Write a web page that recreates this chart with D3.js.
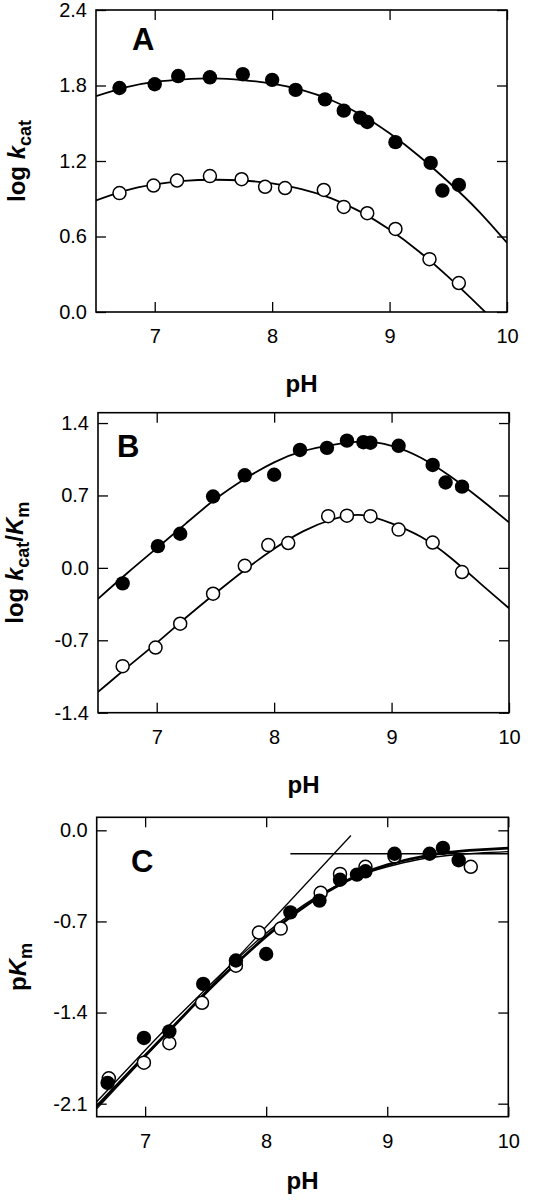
<!DOCTYPE html>
<html>
<head>
<meta charset="utf-8">
<script src="https://cdn.jsdelivr.net/npm/d3@7"></script>
<style>
  html, body { margin: 0; padding: 0; background: #fff; }
  svg { display: block; }
  text { font-family: "Liberation Sans", Arial, Helvetica, sans-serif; fill: #000; }
</style>
</head>
<body>
<svg id="chart" width="544" height="1200"></svg>
<script>
// ---------------- DATA ----------------
const xTicks = [7, 8, 9, 10];

// Panel A : log kcat
const aTicks = [0.0, 0.6, 1.2, 1.8, 2.4];
const aFilledPH  = [6.70, 7.00, 7.20, 7.47, 7.75, 8.00, 8.20, 8.45, 8.61, 8.75, 8.81, 9.05, 9.35, 9.45, 9.59];
const aFilledVal = [1.78, 1.81, 1.875, 1.865, 1.89, 1.845, 1.765, 1.69, 1.60, 1.545, 1.51, 1.35, 1.185, 0.965, 1.01];
const aOpenPH    = [6.70, 6.99, 7.19, 7.47, 7.74, 7.94, 8.11, 8.44, 8.61, 8.81, 9.05, 9.34, 9.59];
const aOpenVal   = [0.945, 1.005, 1.045, 1.08, 1.055, 0.995, 0.985, 0.97, 0.835, 0.785, 0.66, 0.42, 0.23];
const aFitFilledPH  = [6.5, 6.75, 7.0, 7.25, 7.5, 7.75, 8.0, 8.25, 8.5, 8.75, 9.0, 9.25, 9.5, 9.75, 10.0];
const aFitFilledVal = [1.715, 1.785, 1.828, 1.849, 1.856, 1.843, 1.815, 1.765, 1.685, 1.572, 1.42, 1.24, 1.035, 0.81, 0.55];
const aFitOpenPH    = [6.5, 6.75, 7.0, 7.25, 7.5, 7.75, 8.0, 8.25, 8.5, 8.75, 9.0, 9.25, 9.5, 9.75, 10.0];
const aFitOpenVal   = [0.887, 0.965, 1.014, 1.042, 1.051, 1.045, 1.022, 0.977, 0.905, 0.798, 0.655, 0.481, 0.279, 0.059, -0.17];

// Panel B : log kcat/Km
const bTicks = [-1.4, -0.7, 0.0, 0.7, 1.4];
const bFilledPH  = [6.71, 7.01, 7.20, 7.48, 7.75, 8.00, 8.22, 8.45, 8.62, 8.76, 8.82, 9.06, 9.35, 9.46, 9.60];
const bFilledVal = [-0.15, 0.21, 0.33, 0.69, 0.895, 0.90, 1.14, 1.16, 1.23, 1.215, 1.21, 1.18, 0.995, 0.825, 0.785];
const bOpenPH    = [6.71, 6.99, 7.20, 7.48, 7.75, 7.95, 8.12, 8.46, 8.62, 8.82, 9.06, 9.35, 9.60];
const bOpenVal   = [-0.95, -0.77, -0.54, -0.25, 0.02, 0.22, 0.24, 0.50, 0.505, 0.50, 0.37, 0.245, -0.04];
const bFitFilledPH  = [6.5, 6.75, 7.0, 7.25, 7.5, 7.75, 8.0, 8.25, 8.5, 8.75, 9.0, 9.25, 9.5, 9.75, 10.0];
const bFitFilledVal = [-0.30, -0.05, 0.19, 0.43, 0.665, 0.86, 1.02, 1.13, 1.19, 1.22, 1.18, 1.065, 0.885, 0.67, 0.44];
const bFitOpenPH    = [6.5, 6.75, 7.0, 7.25, 7.5, 7.75, 8.0, 8.25, 8.5, 8.75, 9.0, 9.25, 9.5, 9.75, 10.0];
const bFitOpenVal   = [-1.20, -0.96, -0.725, -0.48, -0.245, -0.02, 0.185, 0.355, 0.47, 0.51, 0.43, 0.30, 0.10, -0.145, -0.39];

// Panel C : pKm
const cTicks = [-2.1, -1.4, -0.7, 0.0];
const cFilledPH  = [6.69, 6.99, 7.20, 7.48, 7.75, 8.00, 8.20, 8.44, 8.61, 8.75, 8.82, 9.06, 9.35, 9.46, 9.59];
const cFilledVal = [-1.94, -1.595, -1.545, -1.18, -1.00, -0.95, -0.63, -0.54, -0.38, -0.34, -0.315, -0.18, -0.18, -0.135, -0.23];
const cOpenPH    = [6.70, 6.99, 7.20, 7.47, 7.75, 7.94, 8.12, 8.45, 8.61, 8.82, 9.06, 9.69];
const cOpenVal   = [-1.905, -1.785, -1.635, -1.325, -1.04, -0.785, -0.755, -0.48, -0.335, -0.28, -0.20, -0.28];
const cFitThickPH  = [6.6, 7.0, 7.25, 7.5, 7.75, 8.0, 8.25, 8.5, 8.75, 9.0, 9.25, 9.5, 9.75, 10.0];
const cFitThickVal = [-2.12, -1.73, -1.49, -1.25, -1.025, -0.815, -0.63, -0.475, -0.35, -0.265, -0.21, -0.17, -0.15, -0.137];
const cFitThinPH   = [6.6, 7.0, 7.25, 7.5, 7.75, 8.0, 8.25, 8.5, 8.75, 9.0, 9.25, 9.5, 9.75, 10.0];
const cFitThinVal  = [-2.085, -1.69, -1.45, -1.22, -0.997, -0.79, -0.613, -0.466, -0.355, -0.28, -0.226, -0.194, -0.175, -0.164];
const cSlopeLinePH  = [6.6, 8.7];
const cSlopeLineVal = [-2.14, -0.04];
const cFlatLinePH   = [8.2, 10.0];
const cFlatLineVal  = [-0.18, -0.18];

// ---------------- DRAWING ----------------
const svg = d3.select("#chart");
const fmt = v => d3.format(".1f")(v).replace("\u2212", "-");
const zip = (xs, ys) => xs.map((x, i) => [x, ys[i]]);

function drawPanel(cfg) {
  const g = svg.append("g");
  const x = d3.scaleLinear().domain(cfg.xDomain).range([cfg.left, cfg.right]);
  const y = d3.scaleLinear().domain(cfg.yDomain).range([cfg.bottom, cfg.top]);
  const clipId = "clip" + cfg.id;
  svg.append("defs").append("clipPath").attr("id", clipId)
    .append("rect").attr("x", cfg.left).attr("y", cfg.top)
    .attr("width", cfg.right - cfg.left).attr("height", cfg.bottom - cfg.top);

  // axes (inward ticks on all four sides)
  const styleAxis = sel => {
    sel.select(".domain").remove();
    sel.selectAll(".tick line").attr("stroke", "#000").attr("stroke-width", 1.3);
    sel.selectAll(".tick text").attr("font-size", 20).attr("fill", "#000")
      .attr("font-family", '"Liberation Sans", Arial, sans-serif');
  };
  g.append("g").attr("transform", `translate(0,${cfg.bottom})`)
    .call(d3.axisBottom(x).tickValues(xTicks).tickSize(-10).tickPadding(17).tickFormat(d3.format("d")))
    .call(styleAxis);
  g.append("g").attr("transform", `translate(0,${cfg.top})`)
    .call(d3.axisTop(x).tickValues(xTicks).tickSize(-10).tickFormat(""))
    .call(styleAxis);
  g.append("g").attr("transform", `translate(${cfg.left},0)`)
    .call(d3.axisLeft(y).tickValues(cfg.yTicks).tickSize(-10).tickPadding(9).tickFormat(fmt))
    .call(styleAxis);
  g.append("g").attr("transform", `translate(${cfg.right},0)`)
    .call(d3.axisRight(y).tickValues(cfg.yTicks).tickSize(-10).tickFormat(""))
    .call(styleAxis);

  // frame
  g.append("rect").attr("x", cfg.left).attr("y", cfg.top)
    .attr("width", cfg.right - cfg.left).attr("height", cfg.bottom - cfg.top)
    .attr("fill", "none").attr("stroke", "#000").attr("stroke-width", 1.6);

  const plot = g.append("g").attr("clip-path", `url(#${clipId})`);
  const lineSmooth = d3.line().x(d => x(d[0])).y(d => y(d[1])).curve(d3.curveNatural);
  const lineStraight = d3.line().x(d => x(d[0])).y(d => y(d[1]));

  cfg.lines.forEach(l => {
    plot.append("path").datum(zip(l.xs, l.ys))
      .attr("d", l.straight ? lineStraight : lineSmooth)
      .attr("fill", "none").attr("stroke", "#000").attr("stroke-width", l.w);
  });

  // open markers then filled markers
  g.append("g").selectAll("circle").data(zip(cfg.openX, cfg.openY)).join("circle")
    .attr("cx", d => x(d[0])).attr("cy", d => y(d[1])).attr("r", 6.5)
    .attr("fill", "#fff").attr("stroke", "#000").attr("stroke-width", 1.5);
  g.append("g").selectAll("circle").data(zip(cfg.filledX, cfg.filledY)).join("circle")
    .attr("cx", d => x(d[0])).attr("cy", d => y(d[1])).attr("r", 7.2)
    .attr("fill", "#000");

  // panel letter
  g.append("text").attr("x", cfg.letterX).attr("y", cfg.letterY)
    .attr("font-size", 31).attr("font-weight", "bold").text(cfg.letter);

  // x title
  g.append("text").attr("x", (cfg.left + cfg.right) / 2).attr("y", cfg.xTitleY)
    .attr("text-anchor", "middle").attr("font-size", 24).attr("font-weight", "bold").text("pH");

  // y title
  const yt = g.append("text")
    .attr("transform", `translate(${cfg.yTitleX},${(cfg.top + cfg.bottom) / 2}) rotate(-90)`)
    .attr("text-anchor", "middle").attr("font-size", 24).attr("font-weight", "bold");
  cfg.yTitle.forEach(part => {
    const t = yt.append("tspan").text(part.t);
    if (part.i) t.attr("font-style", "italic");
    if (part.sub) t.attr("font-size", 18).attr("dy", 6);
    if (part.up) t.attr("dy", -6);
  });
}

drawPanel({
  id: "A", letter: "A", left: 96, right: 507, top: 10, bottom: 312,
  xDomain: [6.5, 10], yDomain: [0, 2.4], yTicks: aTicks,
  letterX: 132, letterY: 50, xTitleY: 392, yTitleX: 25,
  yTitle: [{t: "log "}, {t: "k", i: true}, {t: "cat", sub: true}],
  filledX: aFilledPH, filledY: aFilledVal, openX: aOpenPH, openY: aOpenVal,
  lines: [
    {xs: aFitFilledPH, ys: aFitFilledVal, w: 1.8},
    {xs: aFitOpenPH, ys: aFitOpenVal, w: 1.8}
  ]
});

drawPanel({
  id: "B", letter: "B", left: 98, right: 509, top: 412.7, bottom: 712.7,
  xDomain: [6.5, 10], yDomain: [-1.4, 1.5], yTicks: bTicks,
  letterX: 117, letterY: 457, xTitleY: 793, yTitleX: 23,
  yTitle: [{t: "log "}, {t: "k", i: true}, {t: "cat", sub: true}, {t: "/", up: true}, {t: "K", i: true}, {t: "m", sub: true}],
  filledX: bFilledPH, filledY: bFilledVal, openX: bOpenPH, openY: bOpenVal,
  lines: [
    {xs: bFitFilledPH, ys: bFitFilledVal, w: 1.8},
    {xs: bFitOpenPH, ys: bFitOpenVal, w: 1.8}
  ]
});

drawPanel({
  id: "C", letter: "C", left: 96.7, right: 508.3, top: 817.3, bottom: 1116.7,
  xDomain: [6.6, 10], yDomain: [-2.2, 0.1], yTicks: cTicks,
  letterX: 131, letterY: 872, xTitleY: 1189, yTitleX: 26,
  yTitle: [{t: "p"}, {t: "K", i: true}, {t: "m", sub: true}],
  filledX: cFilledPH, filledY: cFilledVal, openX: cOpenPH, openY: cOpenVal,
  lines: [
    {xs: cSlopeLinePH, ys: cSlopeLineVal, w: 1.3, straight: true},
    {xs: cFlatLinePH, ys: cFlatLineVal, w: 1.3, straight: true},
    {xs: cFitThinPH, ys: cFitThinVal, w: 1.4},
    {xs: cFitThickPH, ys: cFitThickVal, w: 2.8}
  ]
});
</script>
</body>
</html>
